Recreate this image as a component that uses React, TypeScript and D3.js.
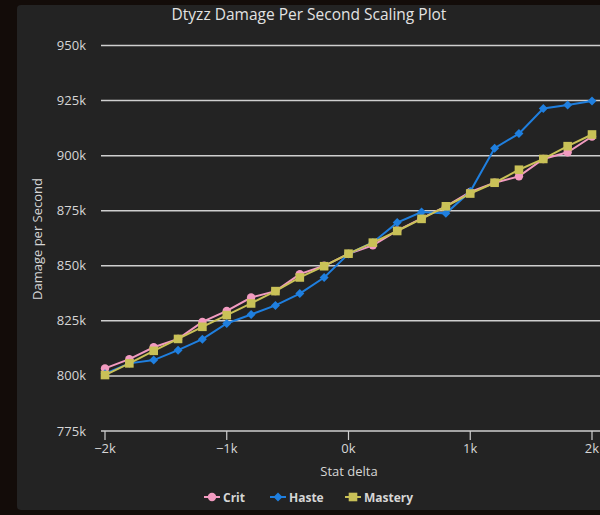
import React from "react";
import * as d3 from "d3";

const statDelta = [-2000, -1800, -1600, -1400, -1200, -1000, -800, -600, -400, -200, 0, 200, 400, 600, 800, 1000, 1200, 1400, 1600, 1800, 2000];
const critDps = [803.4, 807.6, 813.0, 816.8, 824.5, 829.5, 835.6, 838.5, 846.2, 850.0, 855.4, 859.3, 866.0, 871.5, 877.0, 883.5, 887.7, 890.6, 898.5, 901.5, 908.7];
const hasteDps = [801.0, 805.7, 807.2, 811.7, 816.7, 823.8, 827.9, 832.0, 837.4, 844.7, 855.4, 860.6, 869.6, 874.4, 873.8, 883.7, 903.4, 910.0, 921.4, 923.0, 924.8];
const masteryDps = [800.4, 805.7, 811.4, 816.8, 822.3, 827.6, 832.9, 838.5, 844.7, 849.8, 855.5, 860.5, 865.8, 871.3, 877.0, 882.8, 887.7, 893.6, 898.5, 904.3, 909.6];
const yTicks = [775, 800, 825, 850, 875, 900, 925, 950];
const xTicks = [-2000, -1000, 0, 1000, 2000];
const seriesNames = ["Crit", "Haste", "Mastery"];

const colors = ["#f29bc0", "#1f7fdf", "#c9c157"];
const font = "'Open Sans', 'DejaVu Sans', sans-serif";

export default function App() {
  const W = 600, H = 515;
  const x = d3.scaleLinear().domain([-2000, 2000]).range([105, 592]);
  const y = d3.scaleLinear().domain([775, 950]).range([431, 45.5]);
  const series = [critDps, hasteDps, masteryDps];
  const line = d3.line<number>().x((_, i) => x(statDelta[i])).y((v) => y(v));

  const marker = (k: number, cx: number, cy: number, key: string) => {
    if (k === 0) return <circle key={key} cx={cx} cy={cy} r={4.2} fill={colors[0]} />;
    if (k === 1) {
      const s = 4.5;
      return <path key={key} d={`M${cx},${cy - s}L${cx + s},${cy}L${cx},${cy + s}L${cx - s},${cy}Z`} fill={colors[1]} />;
    }
    return <rect key={key} x={cx - 4.3} y={cy - 4.3} width={8.6} height={8.6} fill={colors[2]} />;
  };

  const legendItems = [
    { mx: 212, tx: 223 },
    { mx: 278, tx: 289 },
    { mx: 353, tx: 364 },
  ];

  return (
    <svg width={W} height={H} style={{ position: "absolute", left: 0, top: 0, display: "block" }}>
      <rect x={0} y={0} width={W} height={H} fill="#130c09" />
      <rect x={17} y={5} width={600} height={505} rx={4} fill="#232323" />
      <text x={309} y={19.5} textAnchor="middle" fill="#e2e2e2" fontSize={15.5} fontFamily={font}>
        Dtyzz Damage Per Second Scaling Plot
      </text>
      {yTicks.map((t) => (
        <g key={t}>
          {t !== 775 && <line x1={101} x2={600} y1={y(t)} y2={y(t)} stroke="#cfcfcf" strokeWidth={1.5} />}
          <text x={86} y={y(t)} dy="0.35em" textAnchor="end" fill="#d6d6d6" fontSize={13} fontFamily={font}>
            {t}k
          </text>
        </g>
      ))}
      <line x1={101} x2={600} y1={y(775)} y2={y(775)} stroke="#cfcfcf" strokeWidth={1.5} />
      {xTicks.map((t) => (
        <g key={t}>
          <line x1={x(t)} x2={x(t)} y1={y(775)} y2={y(775) + 9} stroke="#cfcfcf" strokeWidth={1.2} />
          <text x={x(t)} y={453} textAnchor="middle" fill="#d6d6d6" fontSize={13} fontFamily={font}>
            {t === 0 ? "0k" : `${t < 0 ? "\u2212" : ""}${Math.abs(t / 1000)}k`}
          </text>
        </g>
      ))}
      <text x={349} y={476} textAnchor="middle" fill="#d6d6d6" fontSize={13} fontFamily={font}>
        Stat delta
      </text>
      <text transform="translate(41.5,239) rotate(-90)" textAnchor="middle" fill="#d6d6d6" fontSize={13} fontFamily={font}>
        Damage per Second
      </text>
      {series.map((s, k) => (
        <g key={k}>
          <path d={line(s) || ""} fill="none" stroke={colors[k]} strokeWidth={2} />
          {s.map((v, i) => marker(k, x(statDelta[i]), y(v), `${k}-${i}`))}
        </g>
      ))}
      {legendItems.map((it, k) => (
        <g key={k}>
          <line x1={it.mx - 8} x2={it.mx + 8} y1={497} y2={497} stroke={colors[k]} strokeWidth={2} />
          {marker(k, it.mx, 497, `lg-${k}`)}
          <text x={it.tx} y={501.5} fill="#d6d6d6" fontSize={12} fontWeight="bold" fontFamily={font}>
            {seriesNames[k]}
          </text>
        </g>
      ))}
    </svg>
  );
}
